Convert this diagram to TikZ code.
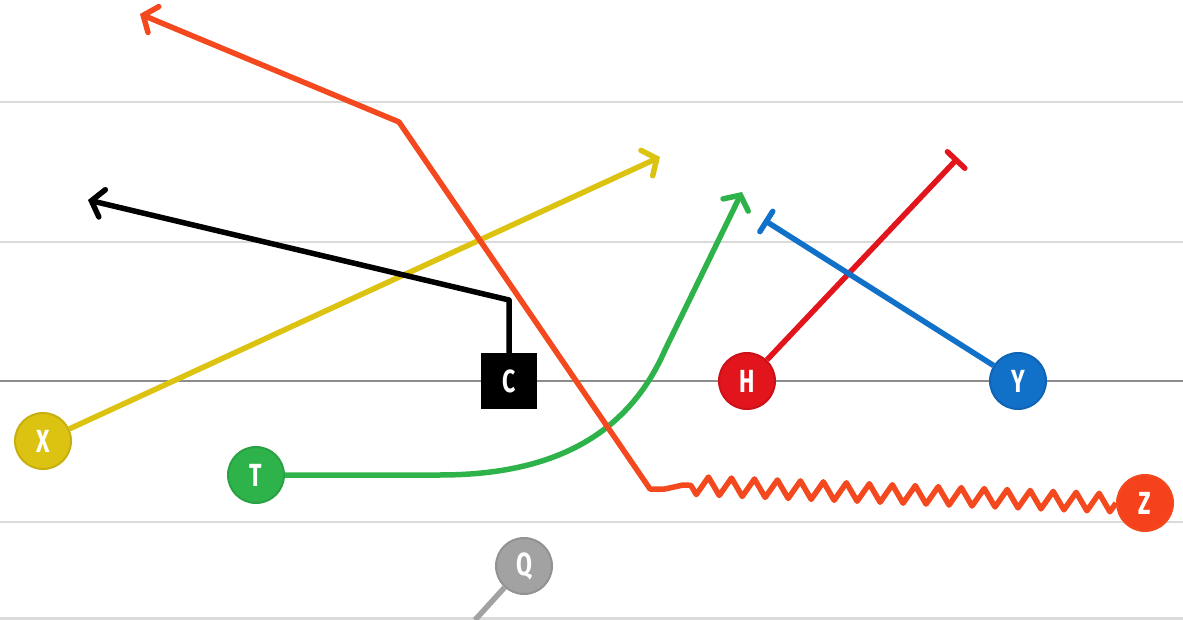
\documentclass[tikz,border=0pt]{standalone}
\usepackage{fontspec}
\newfontfamily\labelfont[FakeStretch=0.72]{Fira Sans}
\usetikzlibrary{arrows.meta,decorations.pathmorphing}
\definecolor{jauneX}{HTML}{DDC311}
\definecolor{vertT}{HTML}{2EB34B}
\definecolor{rougeH}{HTML}{E2141C}
\definecolor{bleuY}{HTML}{1170C8}
\definecolor{orangeZ}{HTML}{F4481E}
\definecolor{grisQ}{HTML}{A2A2A2}
\definecolor{ligne}{HTML}{DADADA}
\definecolor{scrim}{HTML}{8C8C8C}
\begin{document}
\begin{tikzpicture}[x=1pt,y=-1pt,
  joueur/.style={circle,minimum size=56pt,inner sep=0pt,line width=2pt,text=white,font=\labelfont\bfseries\fontsize{32}{32}\selectfont},
  centre/.style={rectangle,minimum size=56pt,inner sep=0pt,fill=black,text=white,font=\labelfont\bfseries\fontsize{32}{32}\selectfont},
  trace/.style={line width=5.5pt,line join=round},
  fleche/.style={-{Straight Barb[length=11pt,width=28pt,line cap=round]}},
  barre/.style={-{Bar[width=24pt,line cap=round]}}]
\useasboundingbox (0,0) rectangle (1183,620);
% Lignes du terrain
\draw[ligne,line width=2.5pt] (0,102) -- (1183,102);
\draw[ligne,line width=2.5pt] (0,242) -- (1183,242);
\draw[ligne,line width=2.5pt] (0,522) -- (1183,522);
\draw[ligne,line width=2.5pt] (0,618.5) -- (1183,618.5);
\draw[scrim,line width=2.5pt] (0,381) -- (1183,381);
% Joueurs
\node[joueur,fill=jauneX,draw=jauneX!90!black] (x) at (43,441) {X};
\node[joueur,fill=vertT,draw=vertT!90!black] (t) at (256,475) {T};
\node[centre] (c) at (509,381) {C};
\node[joueur,fill=rougeH,draw=rougeH!90!black] (h) at (747,381) {H};
\node[joueur,fill=bleuY,draw=bleuY!90!black] (y) at (1018,381) {Y};
\node[joueur,fill=orangeZ!92!red,draw=orangeZ] (z) at (1145,503) {Z};
\node[joueur,fill=grisQ,draw=grisQ!90!black] (q) at (524,566) {Q};
\coordinate (xfin) at (660,157);
\coordinate (tcourbe) at (440,475);
\coordinate (tfin) at (742,192);
\coordinate (ccoin) at (509,300);
\coordinate (cfin) at (88,200);
\coordinate (hfin) at (958,158);
\coordinate (yfin) at (764,220);
\coordinate (zzig) at (683,485);
\coordinate (zcoin) at (650,489);
\coordinate (zcassure) at (399,122);
\coordinate (zfin) at (140,14);
\coordinate (qfin) at (475,620);
% Trajets
\draw[trace,jauneX,fleche] (x) -- (xfin);
\draw[trace,vertT,fleche] (t) -- (tcourbe) .. controls (560,475) and (630,430) .. (665,350) -- (tfin);
\draw[trace,black,fleche] (c) -- (ccoin) -- (cfin);
\draw[trace,rougeH,barre] (h) -- (hfin);
\draw[trace,bleuY,barre] (y) -- (yfin);
\draw[trace,orangeZ,fleche] (z.west) decorate[decoration={zigzag,segment length=23pt,amplitude=9pt}] {-- (zzig)} -- (665,489) -- (zcoin) -- (zcassure) -- (zfin);
\draw[trace,grisQ] (q) -- (qfin);
\end{tikzpicture}
\end{document}
